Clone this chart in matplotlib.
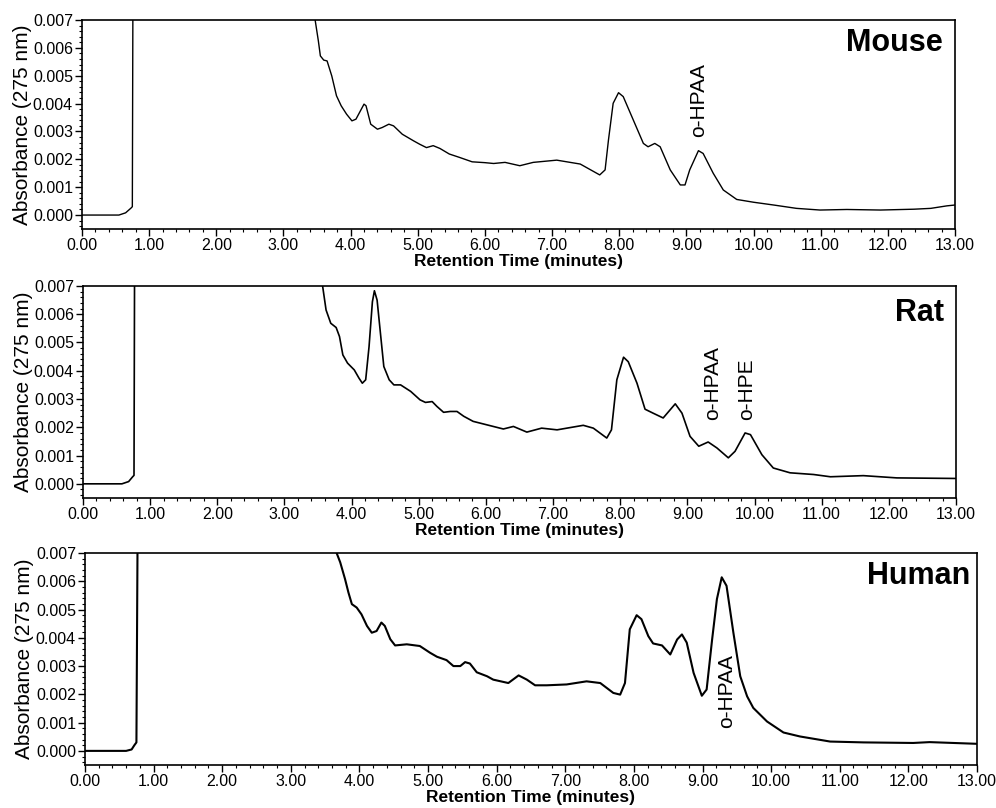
import matplotlib
matplotlib.use('Agg')
import matplotlib.pyplot as plt
import numpy as np
from matplotlib.ticker import MultipleLocator, FormatStrFormatter

plt.rcParams['font.family'] = ['Liberation Sans', 'DejaVu Sans']

# retention time (minutes) and absorbance (x 0.001 AU)
mouse_time = [0, 0.55, 0.65, 0.73, 0.75, 0.76,
              3.44, 3.52, 3.55, 3.60, 3.65, 3.72, 3.79, 3.86, 3.94, 4.02,
              4.08, 4.16, 4.20, 4.23, 4.30, 4.40, 4.47, 4.57, 4.64, 4.77,
              4.94, 5.03, 5.13, 5.23, 5.33, 5.47, 5.62, 5.81, 6.00, 6.13,
              6.30, 6.52, 6.72, 7.07, 7.42, 7.71, 7.79, 7.84, 7.91, 7.99,
              8.06, 8.21, 8.36, 8.43, 8.53, 8.61, 8.76, 8.91, 8.98, 9.05,
              9.18, 9.25, 9.40, 9.55, 9.75, 10.0, 10.30, 10.64, 10.99, 11.39,
              11.89, 12.39, 12.64, 12.88, 13.0]
mouse_abs = [0, 0, 0.08, 0.25, 0.3, 9.0,
             7.5, 6.25, 5.71, 5.56, 5.53, 4.99, 4.28, 3.92, 3.62, 3.38,
             3.44, 3.80, 3.98, 3.92, 3.26, 3.08, 3.14, 3.26, 3.20, 2.90,
             2.66, 2.54, 2.42, 2.49, 2.39, 2.19, 2.07, 1.91, 1.88, 1.85,
             1.89, 1.77, 1.89, 1.97, 1.83, 1.44, 1.62, 2.69, 4.01, 4.39,
             4.25, 3.41, 2.57, 2.45, 2.57, 2.45, 1.62, 1.08, 1.08, 1.62,
             2.31, 2.21, 1.50, 0.90, 0.56, 0.46, 0.36, 0.24, 0.18, 0.20,
             0.18, 0.21, 0.24, 0.33, 0.36]

rat_time = [0, 0.58, 0.68, 0.74, 0.76, 0.77,
            3.55, 3.62, 3.69, 3.77, 3.82, 3.87, 3.94, 4.04, 4.11, 4.16,
            4.21, 4.26, 4.31, 4.34, 4.38, 4.43, 4.48, 4.56, 4.63, 4.73,
            4.88, 5.02, 5.10, 5.20, 5.27, 5.37, 5.47, 5.57, 5.67, 5.81,
            6.01, 6.26, 6.41, 6.61, 6.83, 7.06, 7.45, 7.60, 7.80, 7.87,
            7.95, 8.05, 8.12, 8.25, 8.37, 8.49, 8.64, 8.82, 8.92, 9.04,
            9.17, 9.31, 9.44, 9.61, 9.71, 9.86, 9.94, 10.11, 10.28, 10.53,
            10.88, 11.13, 11.62, 12.12, 13.0]
rat_abs = [0, 0, 0.08, 0.25, 0.3, 9.0,
           7.3, 6.15, 5.68, 5.53, 5.21, 4.56, 4.27, 4.03, 3.74, 3.56,
           3.68, 4.85, 6.44, 6.83, 6.50, 5.32, 4.15, 3.68, 3.50, 3.50,
           3.27, 2.97, 2.88, 2.91, 2.74, 2.53, 2.56, 2.56, 2.39, 2.21,
           2.09, 1.94, 2.03, 1.83, 1.97, 1.91, 2.07, 1.97, 1.62, 1.91,
           3.68, 4.48, 4.32, 3.56, 2.64, 2.50, 2.33, 2.83, 2.50, 1.68,
           1.33, 1.48, 1.27, 0.92, 1.15, 1.80, 1.74, 1.03, 0.56, 0.39,
           0.33, 0.25, 0.29, 0.21, 0.19]

human_time = [0, 0.60, 0.68, 0.72, 0.75, 0.77,
              3.62, 3.72, 3.79, 3.84, 3.89, 3.96, 4.03, 4.11, 4.18, 4.25,
              4.32, 4.37, 4.45, 4.52, 4.69, 4.88, 5.03, 5.13, 5.27, 5.37,
              5.47, 5.54, 5.61, 5.71, 5.86, 5.95, 6.17, 6.32, 6.44, 6.56,
              6.73, 7.02, 7.31, 7.51, 7.70, 7.80, 7.87, 7.94, 8.04, 8.11,
              8.21, 8.28, 8.41, 8.53, 8.63, 8.70, 8.77, 8.87, 8.99, 9.06,
              9.14, 9.21, 9.28, 9.35, 9.45, 9.55, 9.65, 9.74, 9.94, 10.18,
              10.42, 10.86, 11.35, 12.07, 12.31, 13.0]
human_abs = [0, 0, 0.05, 0.2, 0.3, 9.0,
             7.3, 6.67, 6.08, 5.60, 5.19, 5.07, 4.83, 4.42, 4.18, 4.24,
             4.54, 4.42, 3.95, 3.73, 3.77, 3.71, 3.47, 3.33, 3.21, 3.00,
             3.00, 3.14, 3.09, 2.78, 2.64, 2.52, 2.40, 2.67, 2.52, 2.32,
             2.32, 2.35, 2.46, 2.40, 2.05, 1.99, 2.40, 4.30, 4.80, 4.66,
             4.06, 3.80, 3.73, 3.41, 3.94, 4.12, 3.83, 2.76, 1.95, 2.17,
             3.94, 5.37, 6.14, 5.84, 4.18, 2.64, 1.93, 1.52, 1.04, 0.65,
             0.51, 0.33, 0.30, 0.28, 0.31, 0.25]

species = ['Mouse', 'Rat', 'Human']
times = [mouse_time, rat_time, human_time]
absorbs = [mouse_abs, rat_abs, human_abs]

# peak labels: (species index, label, time, absorbance at text bottom)
peak_labels = [(0, 'o-HPAA', 9.18, 2.8),
               (1, 'o-HPAA', 9.37, 2.27),
               (1, 'o-HPE', 9.89, 2.27),
               (2, 'o-HPAA', 9.35, 0.82)]

fig = plt.figure(figsize=(9.96, 8.08), dpi=100)

# axes rectangles in figure fractions (left, bottom, width, height)
rects = [[0.0823, 0.7166, 0.8765, 0.2587],
         [0.0833, 0.3837, 0.8765, 0.2624],
         [0.0853, 0.0532, 0.8956, 0.2624]]
line_widths = [1.0, 1.2, 1.5]
title_pos = [(0.986, 0.96), (0.986, 0.945), (0.992, 0.96)]

axes = []
for i, name in enumerate(species):
    ax = fig.add_axes(rects[i])
    axes.append(ax)
    ax.plot(times[i], np.array(absorbs[i]) / 1000, color='black', lw=line_widths[i])
    ax.set_xlim(0, 13)
    ax.set_ylim(-0.0005, 0.007)

    ax.xaxis.set_major_locator(MultipleLocator(1))
    ax.xaxis.set_minor_locator(MultipleLocator(0.2))
    ax.xaxis.set_major_formatter(FormatStrFormatter('%.2f'))
    ax.yaxis.set_major_locator(MultipleLocator(0.001))
    ax.yaxis.set_minor_locator(MultipleLocator(0.0002))
    ax.yaxis.set_major_formatter(FormatStrFormatter('%.3f'))
    ax.tick_params(which='major', length=5, width=1, labelsize=11.5, pad=1.5)
    ax.tick_params(which='minor', length=2.5, width=0.8)
    for s in ax.spines.values():
        s.set_linewidth(1.2)

    ax.set_xlabel('Retention Time (minutes)', fontsize=12.5, fontweight='bold', labelpad=1)
    ax.set_ylabel('Absorbance (275 nm)', fontsize=15)
    ax.yaxis.set_label_coords(-0.057, 0.5)

    ax.text(title_pos[i][0], title_pos[i][1], name, transform=ax.transAxes,
            ha='right', va='top', fontsize=22, fontweight='bold')

for idx, label, t, a in peak_labels:
    axes[idx].text(t, a / 1000, label, rotation=90, ha='center', va='bottom',
                   fontsize=15)

fig.savefig('out.png', dpi=100)
